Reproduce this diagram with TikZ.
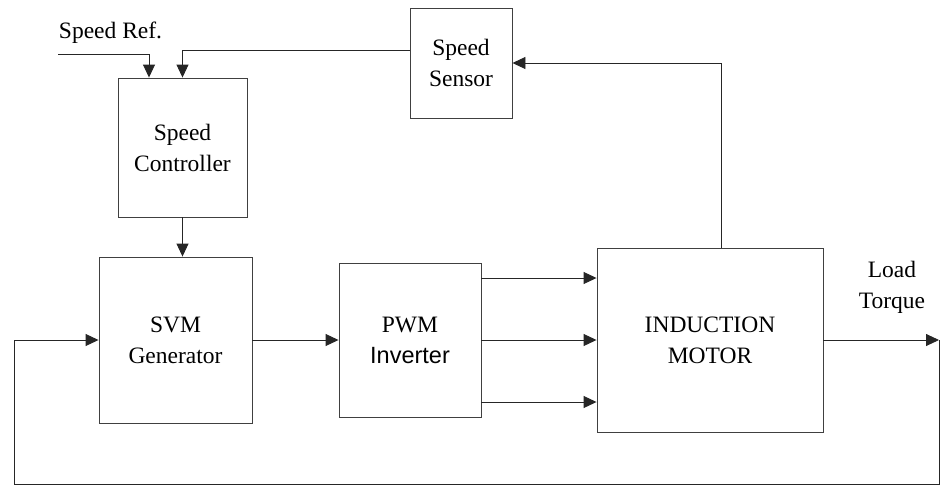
\documentclass[tikz,border=0pt]{standalone}
\usepackage{fontspec}
\setmainfont{Liberation Serif}
\newfontfamily\arialfont{Liberation Sans}
\usetikzlibrary{arrows.meta}
\begin{document}
\begin{tikzpicture}[x=1pt,y=-1pt,
  blk/.style={draw=black!75, line width=0.9pt, fill=white, inner sep=0pt,
    align=center, font=\fontsize{23.5}{31}\selectfont},
  lbl/.style={inner sep=0pt, align=center, font=\fontsize{23.5}{31}\selectfont},
  arr/.style={draw=black!85, line width=0.9pt, -{Triangle[length=13pt,width=12pt]}},
  ln/.style={draw=black!85, line width=0.9pt}]
\useasboundingbox (0,0) rectangle (940,485);
\node[blk, minimum width=129pt, minimum height=139pt] (ctrl) at (182.5,147.5) {Speed\\Controller};
\node[blk, minimum width=102pt, minimum height=110pt] (sensor) at (461,63) {Speed\\Sensor};
\node[blk, minimum width=153pt, minimum height=166pt] (svm) at (175.5,340) {SVM\\Generator};
\node[blk, minimum width=142pt, minimum height=154pt] (pwm) at (410,340) {PWM\\{\arialfont Inverter}};
\node[blk, minimum width=226pt, minimum height=184pt] (motor) at (710,340) {INDUCTION\\MOTOR};
\node[lbl] (ref) at (110.5,33) {Speed Ref.};
\node[lbl] (load) at (892,287) {Load\\Torque};
\coordinate (refstart) at (58,54);
\coordinate (out) at (939,340);
\coordinate (br) at (939,484);
\coordinate (bl) at (14,484);
% Speed reference into controller
\draw[arr] (refstart) -| ([xshift=-33.5pt]ctrl.north);
% sensor feedback into controller
\draw[arr] ([yshift=13pt]sensor.west) -| (ctrl.north);
% motor speed to sensor
\draw[arr] ([xshift=11pt]motor.north) |- (sensor.east);
% controller to SVM
\draw[arr] (ctrl.south) -- (ctrl.south |- svm.north);
% SVM to PWM
\draw[arr] (svm.east) -- (pwm.west);
% PWM three phases to motor
\draw[arr] ([yshift=62pt]pwm.east) -- ([yshift=62pt]pwm.east -| motor.west);
\draw[arr] (pwm.east) -- (motor.west);
\draw[arr] ([yshift=-62pt]pwm.east) -- ([yshift=-62pt]pwm.east -| motor.west);
% motor output (load torque)
\draw[arr] (motor.east) -- (out);
% outer feedback loop
\draw[arr] (out) -- (br) -- (bl) |- (svm.west);
\end{tikzpicture}
\end{document}
